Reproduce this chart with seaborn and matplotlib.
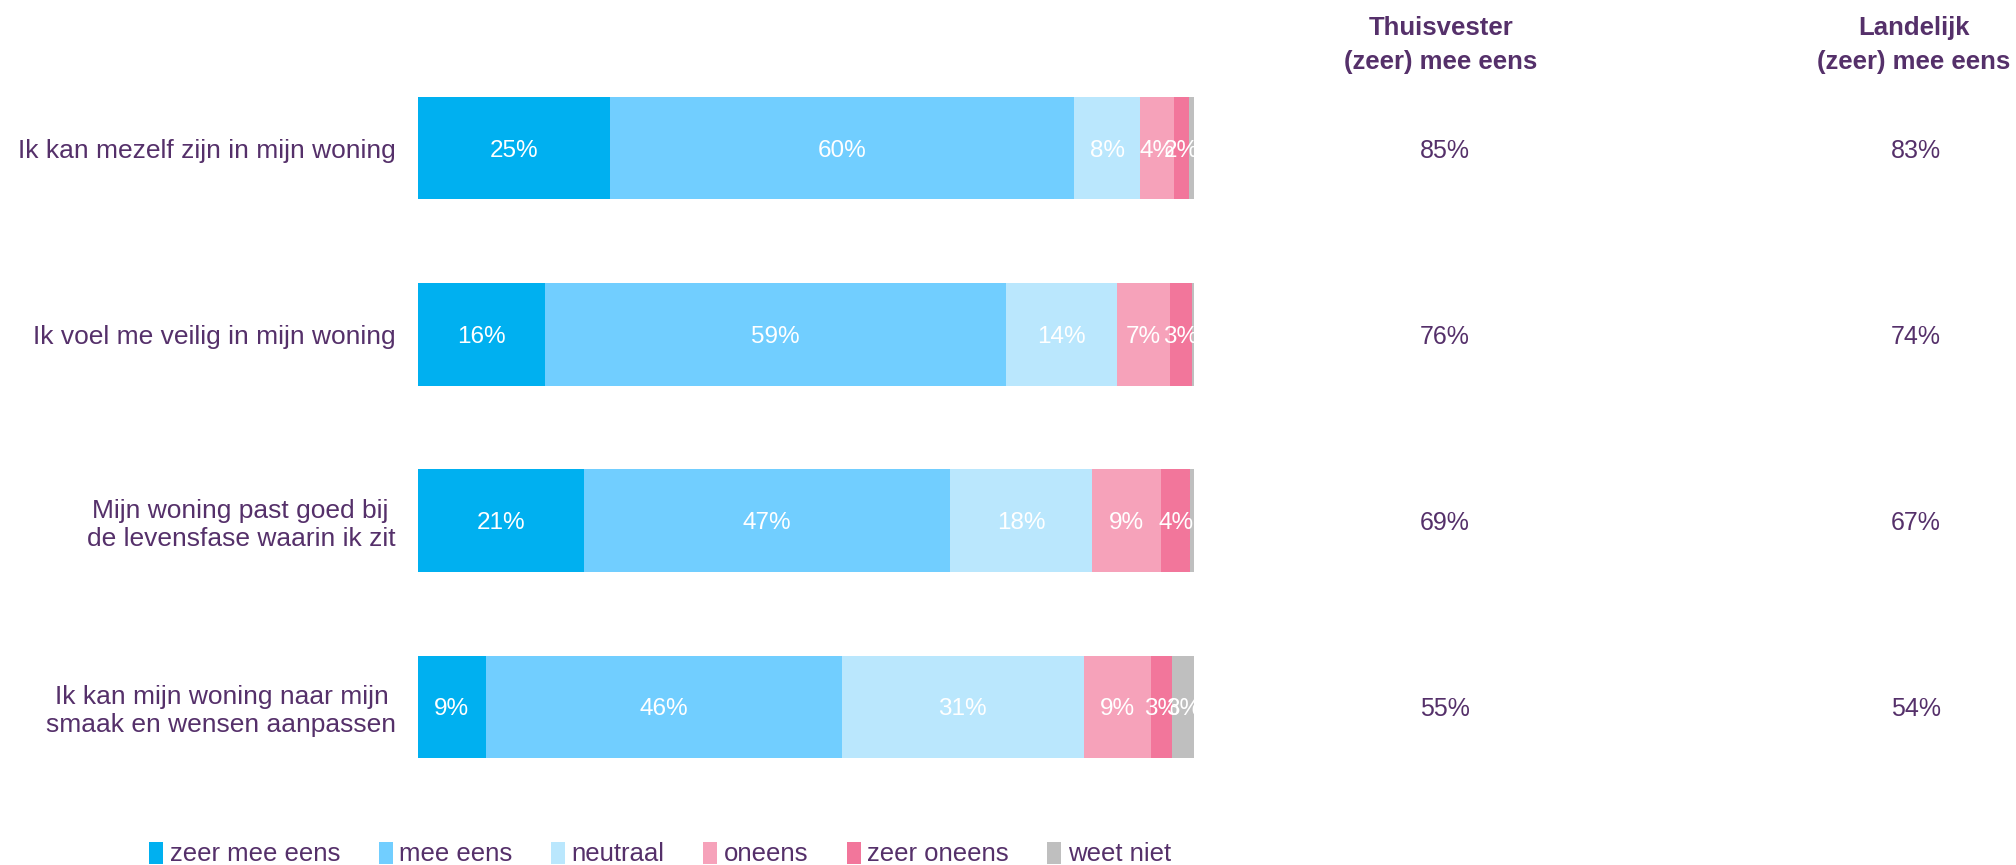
import matplotlib
matplotlib.use("Agg")
import matplotlib.pyplot as plt
import matplotlib.transforms as mtransforms
from matplotlib.patches import Patch
import numpy as np
import pandas as pd
import seaborn as sns

statements = [
    "Ik kan mezelf zijn in mijn woning",
    "Ik voel me veilig in mijn woning",
    "Mijn woning past goed bij \nde levensfase waarin ik zit",
    "Ik kan mijn woning naar mijn \nsmaak en wensen aanpassen",
]
categories = ["zeer mee eens", "mee eens", "neutraal", "oneens", "zeer oneens", "weet niet"]

zeer_mee_eens = [24.8, 16.4, 21.4, 8.7]
mee_eens = [59.8, 59.4, 47.2, 45.9]
neutraal = [8.4, 14.3, 18.2, 31.2]
oneens = [4.4, 6.8, 9.0, 8.6]
zeer_oneens = [2.0, 2.8, 3.7, 2.8]
weet_niet = [0.6, 0.3, 0.5, 2.8]

thuisvester = [85, 76, 69, 55]
landelijk = [83, 74, 67, 54]

colors = ["#00B0F0", "#71CEFF", "#BAE7FD", "#F6A2BA", "#F2769B", "#BFBFBF"]
text_color = "#55306A"

sns.set_theme(style="white")
plt.rcParams["font.family"] = ["Liberation Sans", "DejaVu Sans"]

series = [zeer_mee_eens, mee_eens, neutraal, oneens, zeer_oneens, weet_niet]
df = pd.DataFrame(dict(zip(categories, series)), index=statements)
cum = df.cumsum(axis=1)

fig = plt.figure(figsize=(20.16, 8.65), dpi=100)
ax = fig.add_axes([418 / 2016, 1 - 800 / 865, (1194 - 418) / 2016, 745 / 865])

# stacked bars: draw the widest cumulative first, then overlay
for i in range(len(categories) - 1, -1, -1):
    sns.barplot(
        x=cum[categories[i]].values,
        y=statements,
        order=statements,
        orient="h",
        color=colors[i],
        width=0.55,
        saturation=1,
        linewidth=0,
        ax=ax,
    )

for r, stmt in enumerate(statements):
    for i, cat in enumerate(categories):
        v = df.loc[stmt, cat]
        if v < 1.5:
            continue
        center = cum.loc[stmt, cat] - v / 2
        ax.text(center, r, f"{round(v)}%", ha="center", va="center_baseline",
                color="white", fontsize=17.5, clip_on=True)

ax.set_xlim(0, 100)
ax.set_ylim(3.5, -0.5)
ax.set_xlabel("")
ax.set_ylabel("")
ax.set_xticks([])
for s in ax.spines.values():
    s.set_visible(False)
ax.tick_params(axis="y", length=0, pad=16)
for lab in ax.get_yticklabels():
    lab.set_fontsize(19)
    lab.set_color(text_color)
    lab.set_multialignment("right")

# side columns
trans = mtransforms.blended_transform_factory(fig.transFigure, ax.transData)
head_x = [1441 / 2016, 1914 / 2016]
val_x = [1445 / 2016, 1916 / 2016]
headers = ["Thuisvester\n(zeer) mee eens", "Landelijk\n(zeer) mee eens"]
for hx, vx, h, vals in zip(head_x, val_x, headers, [thuisvester, landelijk]):
    fig.text(hx, 1 - 45 / 865, h, ha="center", va="center", fontsize=18.5,
             fontweight="bold", color=text_color, linespacing=1.55)
    for r, v in enumerate(vals):
        ax.text(vx, r, f"{v}%", transform=trans, ha="center", va="center_baseline",
                fontsize=18, color=text_color)

handles = [Patch(facecolor=c, edgecolor="none") for c in colors]
leg = fig.legend(handles, categories, loc="center", bbox_to_anchor=(660 / 2016, 1 - 854 / 865),
                 ncol=6, frameon=False, fontsize=18.5, handlelength=0.55, handleheight=0.95,
                 handletextpad=0.25, columnspacing=1.5)
for t in leg.get_texts():
    t.set_color(text_color)

fig.savefig("out.png", dpi=100)
